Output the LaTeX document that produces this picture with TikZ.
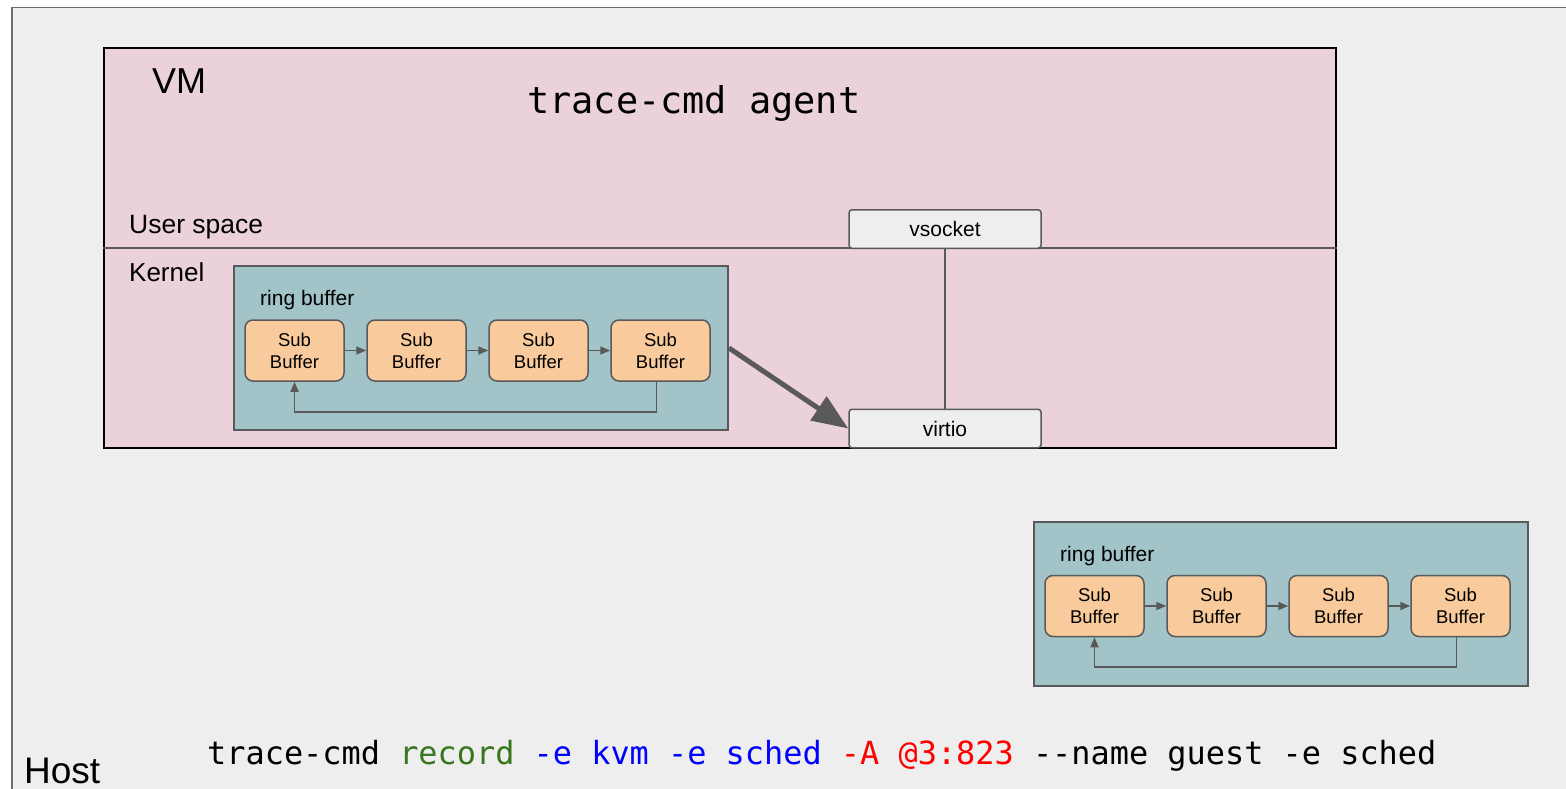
\documentclass[tikz,border=0pt]{standalone}
\usepackage{fontspec}
\setmainfont{Liberation Sans}
\setmonofont{DejaVu Sans Mono}
\usetikzlibrary{arrows.meta,positioning,fit,calc}
\definecolor{hostbg}{RGB}{238,238,238}
\definecolor{hostedge}{RGB}{110,110,110}
\definecolor{vmpink}{RGB}{234,209,220}
\definecolor{ringteal}{RGB}{162,196,201}
\definecolor{subpeach}{RGB}{249,203,156}
\definecolor{linegray}{RGB}{89,89,89}
\definecolor{cmdgreen}{RGB}{56,118,29}
\definecolor{cmdblue}{RGB}{0,0,255}
\definecolor{cmdred}{RGB}{255,0,0}
\tikzset{
  host/.style={draw=hostedge, line width=1.5pt, fill=hostbg, anchor=north west, minimum width=1600, minimum height=820},
  vmbox/.style={draw=black, line width=2pt, fill=vmpink, minimum width=1232, minimum height=400},
  ring/.style={draw=linegray, line width=2pt, fill=ringteal, minimum width=494, minimum height=164},
  subbuf/.style={draw=linegray, line width=1.5pt, fill=subpeach, rounded corners=8pt, minimum width=99, minimum height=61, align=center, font=\fontsize{18.5}{22}\selectfont},
  port/.style={draw=linegray, line width=1.5pt, fill=hostbg, rounded corners=3pt, minimum width=192, minimum height=38.5, font=\fontsize{21}{25}\selectfont},
  lbl/.style={anchor=base west, inner sep=0pt},
  link/.style={-{Triangle[length=10pt,width=8pt]}, draw=linegray, line width=1.7pt},
  bigarrow/.style={-{Triangle[length=36pt,width=28pt]}, draw=linegray, line width=5pt},
  sep/.style={draw=linegray, line width=2pt}
}

\begin{document}
\begin{tikzpicture}[x=1pt,y=-1pt]
    \clip (0,0) rectangle (1566,789);
    \fill[white] (0,0) rectangle (1566,789);
    \node[host] (host) at (11,7) {};

    \node[vmbox] (vm) at (720,248) {};
    \draw[sep] (vm.west) -- (vm.east);
    \node[lbl, font=\fontsize{36}{40}\selectfont] (vmname) at (152,94) {VM};
    \node[lbl, font=\fontsize{36.9}{40}\ttfamily] (agent) at (527,114) {trace-cmd agent};
    \node[lbl, font=\fontsize{26.5}{30}\selectfont] (user) at (129,233) {User space};
    \node[lbl, font=\fontsize{26}{30}\selectfont] (kernel) at (129,281) {Kernel};

    \node[port] (vsock) at (945,229) {vsocket};
    \node[port] (virtio) at (945,428.5) {virtio};
    \draw[sep, line width=1.5pt] (vsock.south) -- (virtio.north);

    \node[ring] (rbvm) at (481,348) {};
    \node[lbl, font=\fontsize{21}{25}\selectfont] (rbvmname) at (260,305) {ring buffer};
    \node[subbuf] (sv1) at (294.5,350.5) {Sub\\Buffer};
    \node[subbuf] (sv2) at (416.5,350.5) {Sub\\Buffer};
    \node[subbuf] (sv3) at (538.5,350.5) {Sub\\Buffer};
    \node[subbuf] (sv4) at (660.5,350.5) {Sub\\Buffer};
    \draw[link] (sv1) -- (sv2);
    \draw[link] (sv2) -- (sv3);
    \draw[link] (sv3) -- (sv4);
    \draw[link] ([xshift=-4]sv4.south) -- ++(0,30) -| (sv1.south);
    \draw[bigarrow] (rbvm.east) -- (virtio.west);

    \node[ring] (rbhost) at (1280.5,604) {};
    \node[lbl, font=\fontsize{21}{25}\selectfont] (rbhostname) at (1060,561) {ring buffer};
    \node[subbuf] (sh1) at (1094.5,606) {Sub\\Buffer};
    \node[subbuf] (sh2) at (1216.5,606) {Sub\\Buffer};
    \node[subbuf] (sh3) at (1338.5,606) {Sub\\Buffer};
    \node[subbuf] (sh4) at (1460.5,606) {Sub\\Buffer};
    \draw[link] (sh1) -- (sh2);
    \draw[link] (sh2) -- (sh3);
    \draw[link] (sh3) -- (sh4);
    \draw[link] ([xshift=-4]sh4.south) -- ++(0,30) -| (sh1.south);

    \node[lbl, font=\fontsize{37}{40}\selectfont] (hostname) at (24,783) {Host};
    \node[lbl, font=\fontsize{31.9}{36}\ttfamily] (cmd) at (207,764) {trace-cmd \textcolor{cmdgreen}{record} \textcolor{cmdblue}{-e kvm -e sched} \textcolor{cmdred}{-A @3:823} -{}-name guest -e sched};
  \end{tikzpicture}
\end{document}
